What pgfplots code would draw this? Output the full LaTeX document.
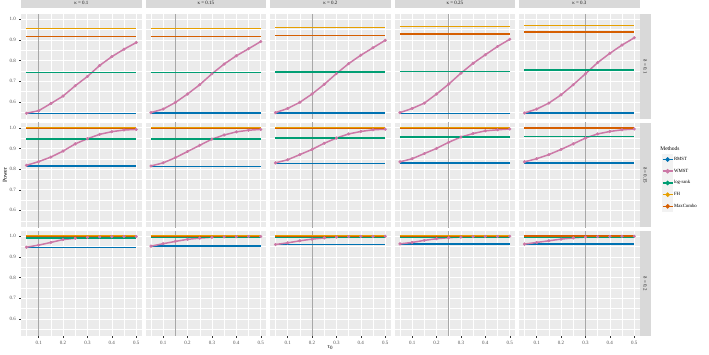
\documentclass[border=0pt]{standalone}
\usepackage{fontspec}
\setmainfont{Liberation Serif}
\usepackage{pgfplots}
\pgfplotsset{compat=1.18}
\usepgfplotslibrary{groupplots}
\definecolor{panelbg}{HTML}{EBEBEB}
\definecolor{stripc}{HTML}{D9D9D9}
\definecolor{striptext}{HTML}{1A1A1A}
\definecolor{tickc}{HTML}{4D4D4D}
\definecolor{tickm}{HTML}{333333}
\definecolor{vlc}{HTML}{A8A8A8}
\definecolor{legkey}{HTML}{F2F2F2}
\definecolor{cRMST}{HTML}{0072B2}
\definecolor{cWMST}{HTML}{CC79A7}
\definecolor{cLR}{HTML}{009E73}
\definecolor{cFH}{HTML}{E69F00}
\definecolor{cMC}{HTML}{D55E00}
\newcommand{\sfont}{\fontsize{5}{6}\selectfont}
\newcommand{\panel}[6]{%
  \addplot[color=vlc, line width=0.8bp, forget plot] coordinates {(#5,0.4) (#5,1.1)};
  \addplot[color=cRMST, line width=1.5bp] coordinates {(0.05,#1) (0.5,#1)};
  \addplot[color=cWMST, line width=1.5bp] coordinates {#6};
  \addplot[color=cLR, line width=1.5bp] coordinates {(0.05,#2) (0.5,#2)};
  \addplot[color=cFH, line width=1.5bp] coordinates {(0.05,#3) (0.5,#3)};
  \addplot[color=cMC, line width=1.5bp] coordinates {(0.05,#4) (0.5,#4)};
  \addplot[color=cWMST, only marks, mark=*, mark size=1.4bp, forget plot] coordinates {#6};
}
\newcommand{\rstrip}[1]{\node[fill=stripc, rotate=-90, anchor=south, minimum width=104.5bp, minimum height=11bp, inner sep=0pt, font=\sfont, text=striptext] at (1,0.5) {#1};}
\begin{document}
\begin{tikzpicture}
\begin{groupplot}[
  group style={group size=5 by 3, horizontal sep=3.8bp, vertical sep=4bp,
    xticklabels at=edge bottom, yticklabels at=edge left},
  scale only axis, width=120.7bp, height=104.5bp,
  xmin=0.0275, xmax=0.5225, ymin=0.517, ymax=1.023,
  xtick={0.1,0.2,0.3,0.4,0.5}, ytick={0.6,0.7,0.8,0.9,1.0},
  minor xtick={0.05,0.15,0.25,0.35,0.45},
  minor ytick={0.55,0.65,0.75,0.85,0.95},
  grid=both,
  major grid style={white, line width=0.55bp},
  minor grid style={white, line width=0.3bp},
  xtick pos=bottom, ytick pos=left,
  xmajorticks=false, ymajorticks=false,
  xminorticks=false, yminorticks=false,
  minor tick length=0pt,
  major tick length=1.6bp,
  tick align=outside,
  tick style={color=tickm, line width=0.4bp},
  axis line style={draw=none},
  axis background/.style={fill=panelbg},
  tick label style={font=\sfont, text=tickc},
  /pgf/number format/assume math mode=true,
  xticklabel style={/pgf/number format/.cd, fixed, fixed zerofill, precision=1},
  yticklabel style={/pgf/number format/.cd, fixed, fixed zerofill, precision=1},
  title style={at={(0.5,1)}, anchor=south, yshift=0bp, fill=stripc, minimum width=120.7bp, minimum height=10bp, inner sep=0pt, font=\sfont, text=striptext},
  legend image code/.code={
    \fill[legkey] (0bp,-5.1bp) rectangle (10bp,5.1bp);
    \draw[#1] (0bp,0bp) -- (10bp,0bp);
    \fill[#1] (5bp,0bp) circle (1.4bp);
  },
]
% ---------- row 1: delta = 0.1
\nextgroupplot[title={κ = 0.1}, ymajorticks=true,
  extra description/.code={\coordinate (TL) at (0,1);}]
\panel{0.543}{0.742}{0.955}{0.916}{0.1}{(0.05,0.545) (0.10,0.557) (0.15,0.592) (0.20,0.628) (0.25,0.678) (0.30,0.723) (0.35,0.776) (0.40,0.819) (0.45,0.855) (0.50,0.887)}
\nextgroupplot[title={κ = 0.15}]
\panel{0.545}{0.742}{0.955}{0.917}{0.15}{(0.05,0.548) (0.10,0.565) (0.15,0.597) (0.20,0.638) (0.25,0.683) (0.30,0.736) (0.35,0.783) (0.40,0.823) (0.45,0.857) (0.50,0.892)}
\nextgroupplot[title={κ = 0.2}]
\panel{0.545}{0.745}{0.960}{0.922}{0.2}{(0.05,0.548) (0.10,0.568) (0.15,0.598) (0.20,0.638) (0.25,0.685) (0.30,0.737) (0.35,0.785) (0.40,0.826) (0.45,0.862) (0.50,0.898)}
\nextgroupplot[title={κ = 0.25}]
\panel{0.543}{0.747}{0.964}{0.929}{0.25}{(0.05,0.548) (0.10,0.568) (0.15,0.594) (0.20,0.638) (0.25,0.686) (0.30,0.739) (0.35,0.787) (0.40,0.828) (0.45,0.868) (0.50,0.903)}
\nextgroupplot[title={κ = 0.3}, extra description/.code={\rstrip{δ = 0.1}}]
\panel{0.545}{0.755}{0.969}{0.939}{0.3}{(0.05,0.546) (0.10,0.565) (0.15,0.594) (0.20,0.634) (0.25,0.683) (0.30,0.736) (0.35,0.790) (0.40,0.835) (0.45,0.875) (0.50,0.910)}
% ---------- row 2: delta = 0.15
\nextgroupplot[ymajorticks=true,
  extra description/.code={\node[rotate=90, font=\fontsize{6}{7}\selectfont] at ([xshift=-16bp]0,0.5) {Power};}]
\panel{0.815}{0.945}{0.999}{0.996}{0.1}{(0.05,0.818) (0.10,0.836) (0.15,0.858) (0.20,0.887) (0.25,0.922) (0.30,0.947) (0.35,0.968) (0.40,0.981) (0.45,0.989) (0.50,0.992)}
\nextgroupplot
\panel{0.812}{0.945}{0.999}{0.996}{0.15}{(0.05,0.815) (0.10,0.830) (0.15,0.855) (0.20,0.885) (0.25,0.915) (0.30,0.945) (0.35,0.965) (0.40,0.980) (0.45,0.988) (0.50,0.992)}
\nextgroupplot
\panel{0.826}{0.950}{0.999}{0.997}{0.2}{(0.05,0.830) (0.10,0.845) (0.15,0.870) (0.20,0.895) (0.25,0.925) (0.30,0.950) (0.35,0.970) (0.40,0.982) (0.45,0.990) (0.50,0.993)}
\nextgroupplot
\panel{0.830}{0.955}{0.999}{0.997}{0.25}{(0.05,0.835) (0.10,0.850) (0.15,0.875) (0.20,0.900) (0.25,0.930) (0.30,0.955) (0.35,0.972) (0.40,0.985) (0.45,0.990) (0.50,0.994)}
\nextgroupplot[extra description/.code={\rstrip{δ = 0.15}},
  legend style={at={(1,1)}, anchor=north west, xshift=22bp, yshift=-30.5bp, draw=none, fill=none, inner sep=0pt, row sep=0pt, font=\fontsize{4.8}{5.5}\selectfont, cells={anchor=west}, name=leg, nodes={inner sep=0.6bp}},
  legend cell align=left]
\panel{0.830}{0.958}{0.999}{0.998}{0.3}{(0.05,0.835) (0.10,0.850) (0.15,0.870) (0.20,0.895) (0.25,0.922) (0.30,0.950) (0.35,0.970) (0.40,0.982) (0.45,0.990) (0.50,0.994)}
\legend{RMST,WMST,log-rank,FH,MaxCombo}
% ---------- row 3: delta = 0.2
\nextgroupplot[ymajorticks=true, xmajorticks=true]
\panel{0.945}{0.992}{1.000}{0.999}{0.1}{(0.05,0.947) (0.10,0.957) (0.15,0.970) (0.20,0.984) (0.25,0.990) (0.30,0.995) (0.35,0.997) (0.40,0.998) (0.45,0.999) (0.50,0.999)}
\nextgroupplot[xmajorticks=true]
\panel{0.952}{0.993}{1.000}{0.999}{0.15}{(0.05,0.952) (0.10,0.964) (0.15,0.975) (0.20,0.985) (0.25,0.991) (0.30,0.995) (0.35,0.997) (0.40,0.998) (0.45,0.999) (0.50,0.999)}
\nextgroupplot[xmajorticks=true,
  extra description/.code={\node[font=\fontsize{6}{7}\selectfont] at ([yshift=-12bp]0.5,0) {τ\textsubscript{0}};}]
\panel{0.960}{0.994}{1.000}{0.999}{0.2}{(0.05,0.960) (0.10,0.968) (0.15,0.978) (0.20,0.986) (0.25,0.992) (0.30,0.996) (0.35,0.998) (0.40,0.999) (0.45,0.999) (0.50,1.000)}
\nextgroupplot[xmajorticks=true]
\panel{0.963}{0.995}{1.000}{0.999}{0.25}{(0.05,0.963) (0.10,0.970) (0.15,0.980) (0.20,0.988) (0.25,0.993) (0.30,0.996) (0.35,0.998) (0.40,0.999) (0.45,0.999) (0.50,1.000)}
\nextgroupplot[xmajorticks=true, extra description/.code={\rstrip{δ = 0.2}}]
\panel{0.962}{0.996}{1.000}{1.000}{0.3}{(0.05,0.962) (0.10,0.970) (0.15,0.978) (0.20,0.986) (0.25,0.992) (0.30,0.996) (0.35,0.998) (0.40,0.999) (0.45,1.000) (0.50,1.000)}
\end{groupplot}
\node[anchor=south west, inner sep=0pt, font=\fontsize{5.5}{6.5}\selectfont] at ([xshift=-1.5bp, yshift=2.5bp]leg.north west) {Methods};
\pgfresetboundingbox
\path ([xshift=-21bp,yshift=14.5bp]TL) rectangle ([xshift=688bp,yshift=-340.5bp]TL);
\end{tikzpicture}
\end{document}
